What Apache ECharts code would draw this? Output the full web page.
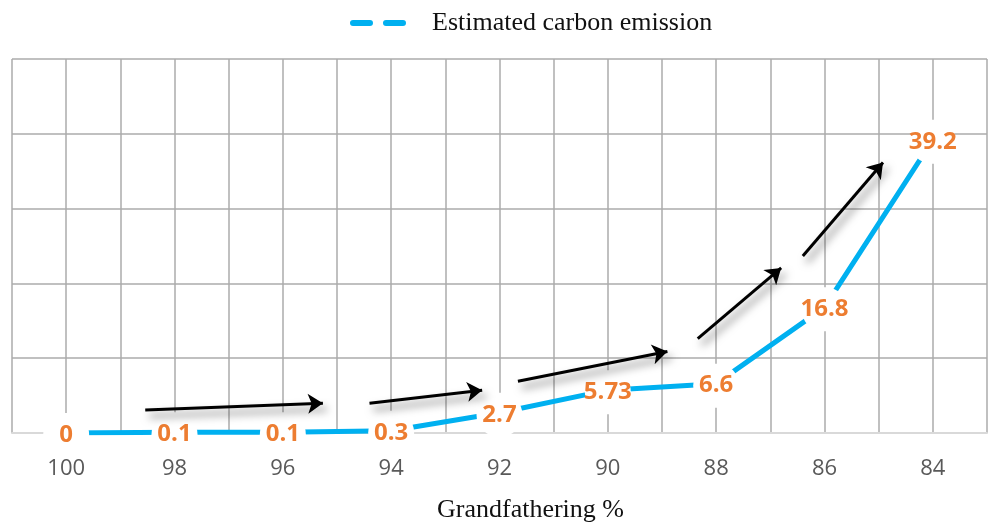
<!DOCTYPE html>
<html>
<head>
<meta charset="utf-8">
<script src="https://cdn.jsdelivr.net/npm/echarts@6/dist/echarts.min.js"></script>
<style>
  html, body { margin: 0; padding: 0; background: #fff; }
  #chart { width: 989px; height: 528px; }
</style>
</head>
<body>
<div id="chart"></div>
<script>
// Grandfathering share (%) along the x axis
const categories = ['100', '98', '96', '94', '92', '90', '88', '86', '84'];
// Estimated carbon emission for each grandfathering level
const emission = [0, 0.1, 0.1, 0.3, 2.7, 5.73, 6.6, 16.8, 39.2];
// Trend arrows: [start, end] in (category index, emission) units
const trendArrows = [
  [[0.73, 3.06], [2.37, 3.99]],
  [[2.80, 3.99], [3.84, 5.72]],
  [[4.17, 6.91], [5.55, 10.9]],
  [[5.83, 12.63], [6.60, 22.07]],
  [[6.80, 23.67], [7.54, 36.17]]
];
const seriesName = 'Estimated carbon emission';

const chart = echarts.init(document.getElementById('chart'), null, { renderer: 'canvas' });
const gridColor = '#ababab';

chart.setOption({
  animation: false,
  backgroundColor: '#ffffff',
  legend: {
    left: 345,
    top: 5,
    data: [{
      name: seriesName,
      icon: 'path://M3,0H20A3,3,0,0,1,20,6H3A3,3,0,0,1,3,0Z M36,0H53A3,3,0,0,1,53,6H36A3,3,0,0,1,36,0Z'
    }],
    itemWidth: 56,
    itemHeight: 6,
    itemStyle: { color: '#00B0F0' },
    textStyle: {
      fontFamily: '"Liberation Serif", "Times New Roman", serif',
      fontSize: 26,
      color: '#111',
      padding: [0, 0, 0, 21]
    }
  },
  grid: { left: 12, right: 2, top: 59, bottom: 93, containLabel: false },
  xAxis: [
    {
      type: 'category',
      data: categories,
      boundaryGap: true,
      axisTick: { show: false },
      axisLine: { show: true, lineStyle: { color: '#d9d9d9', width: 2 } },
      splitLine: { show: false },
      axisLabel: {
        margin: 25,
        fontFamily: '"Open Sans", sans-serif',
        fontSize: 22,
        color: '#595959'
      },
      name: 'Grandfathering %',
      nameLocation: 'middle',
      nameGap: 64,
      nameTextStyle: {
        fontFamily: '"Liberation Serif", "Times New Roman", serif',
        fontSize: 26,
        color: '#111',
        padding: [0, 0, 0, 62]
      },
      z: 3
    },
    {
      // half-band grid used for the vertical lines and the trend arrows
      type: 'value',
      min: -0.5,
      max: 8.5,
      interval: 0.5,
      position: 'bottom',
      axisLine: { show: false },
      axisTick: { show: false },
      axisLabel: { show: false },
      splitLine: { show: true, lineStyle: { color: gridColor, width: 1.5 } }
    }
  ],
  yAxis: {
    type: 'value',
    min: 0,
    max: 50,
    interval: 10,
    axisLine: { show: false },
    axisTick: { show: false },
    axisLabel: { show: false },
    splitLine: { show: true, lineStyle: { color: gridColor, width: 1.5 } }
  },
  series: [
    {
      name: seriesName,
      type: 'line',
      xAxisIndex: 0,
      yAxisIndex: 0,
      data: emission,
      color: '#00B0F0',
      symbol: 'circle',
      symbolSize: 1,
      itemStyle: { color: '#ffffff' },
      lineStyle: { color: '#00B0F0', width: 5, cap: 'butt' },
      z: 3,
      label: {
        show: true,
        position: 'inside',
        offset: [0, 2],
        fontFamily: '"Open Sans", sans-serif',
        fontWeight: 'bold',
        fontSize: 24,
        color: '#ED7D31',
        backgroundColor: '#ffffff',
        width: 46,
        height: 44,
        lineHeight: 44,
        align: 'center',
        verticalAlign: 'middle',
        borderRadius: 23,
        padding: 0
      }
    },
    {
      name: 'trend',
      type: 'lines',
      coordinateSystem: 'cartesian2d',
      xAxisIndex: 1,
      yAxisIndex: 0,
      symbol: ['none', 'arrow'],
      symbolSize: 15,
      z: 4,
      lineStyle: {
        color: '#000000',
        width: 3,
        curveness: 0,
        opacity: 1,
        shadowBlur: 9,
        shadowColor: 'rgba(0,0,0,0.55)',
        shadowOffsetX: 4,
        shadowOffsetY: 6
      },
      data: trendArrows.map(function (a) { return { coords: a }; })
    }
  ]
});
</script>
</body>
</html>
